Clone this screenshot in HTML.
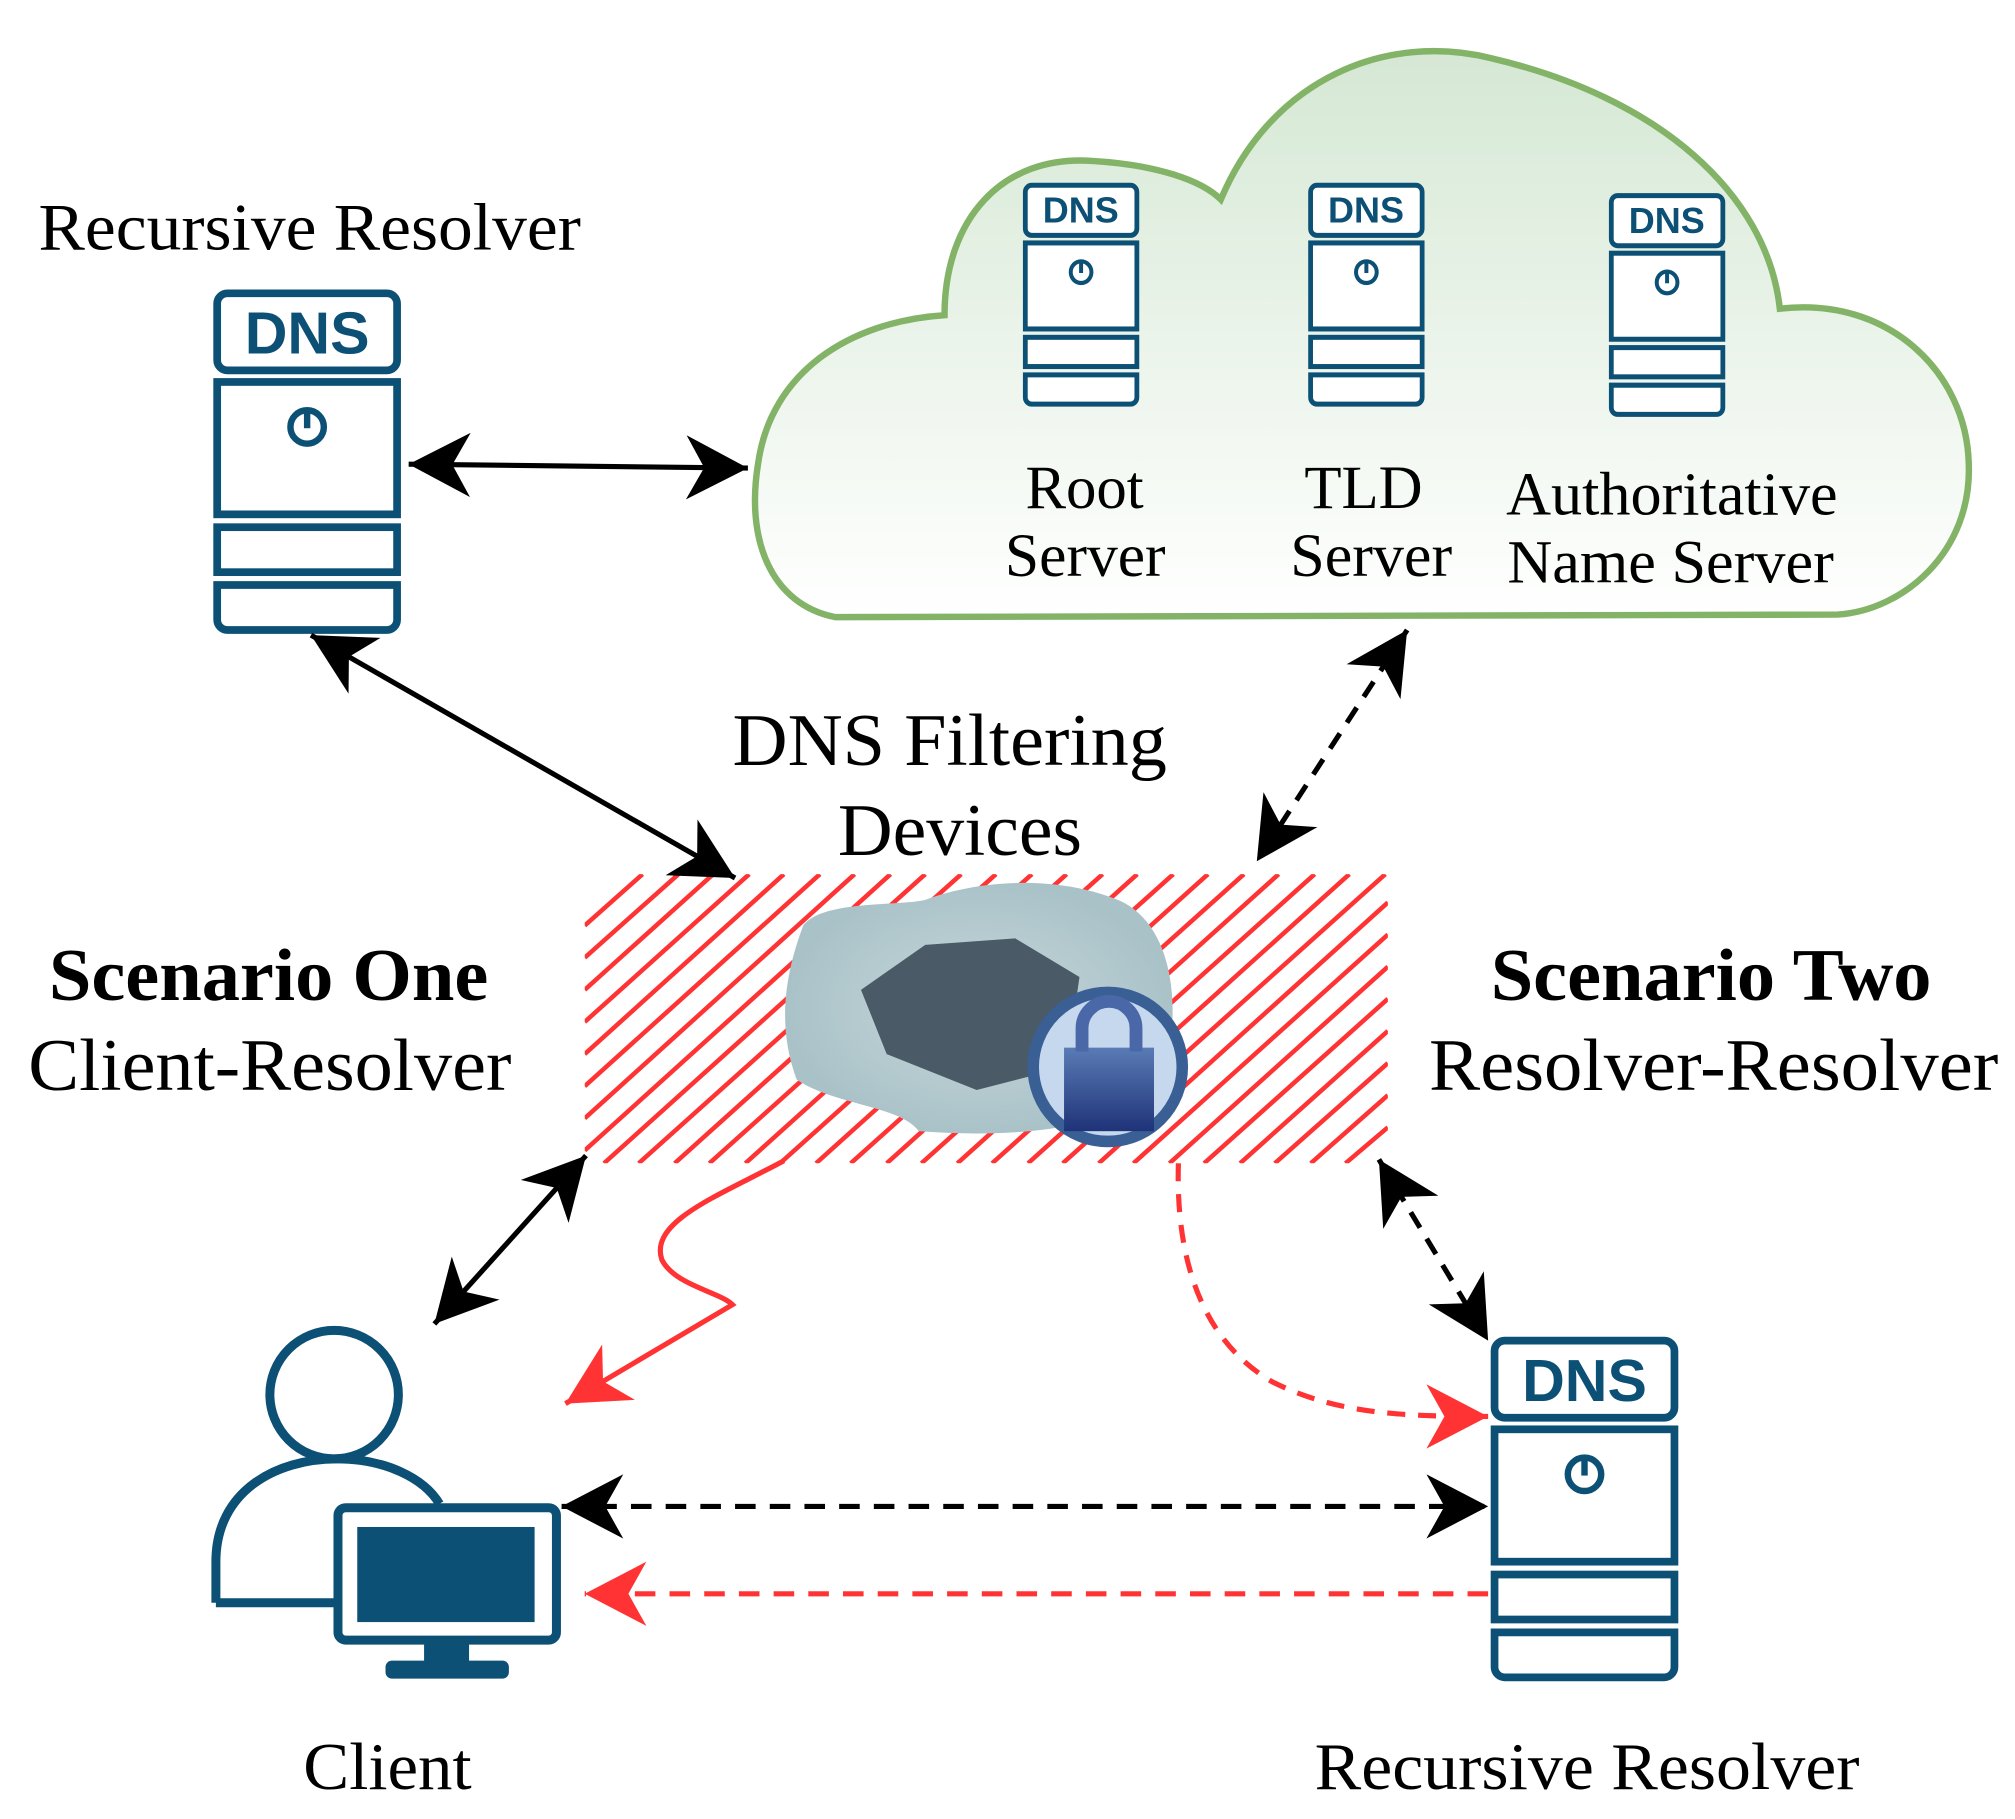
<!DOCTYPE html>
<html><head><meta charset="utf-8"><style>html,body{margin:0;padding:0;background:#fff}svg{display:block}</style></head>
<body>
<svg width="2015" height="1819" viewBox="0 0 1568 1415" xmlns="http://www.w3.org/2000/svg">
<defs>
<marker id="ab" markerUnits="userSpaceOnUse" viewBox="0 0 50 50" refX="48" refY="25" markerWidth="50" markerHeight="50" orient="auto-start-reverse"><path d="M48,25 L0,0 L14,25 L0,50 Z" fill="#000"/></marker>
<marker id="ar" markerUnits="userSpaceOnUse" viewBox="0 0 50 50" refX="48" refY="25" markerWidth="50" markerHeight="50" orient="auto-start-reverse"><path d="M48,25 L0,0 L14,25 L0,50 Z" fill="#f33"/></marker>
<linearGradient id="cg" x1="0" y1="0" x2="0" y2="1"><stop offset="0" stop-color="#d5e8d4"/><stop offset="1" stop-color="#fff"/></linearGradient>
<radialGradient id="gg" cx="0.5" cy="0.5" r="0.5"><stop offset="0" stop-color="#c8d8dc"/><stop offset="1" stop-color="#a9c2c8"/></radialGradient>
<linearGradient id="lk" x1="0" y1="0" x2="0" y2="1"><stop offset="0" stop-color="#5a7bb5"/><stop offset="1" stop-color="#1f3378"/></linearGradient>
<clipPath id="hc"><rect x="455" y="680" width="625" height="225"/></clipPath>
<g id="srv">
<rect x="3" y="3" width="140" height="60" rx="8" fill="#fff" stroke="#0d5075" stroke-width="6"/>
<rect x="3" y="72" width="140" height="103" fill="#fff" stroke="#0d5075" stroke-width="6"/>
<rect x="3" y="185" width="140" height="35" fill="#fff" stroke="#0d5075" stroke-width="6"/>
<path d="M3,230 H143 V257 a8,8 0 0 1 -8,8 H11 a8,8 0 0 1 -8,-8 Z" fill="#fff" stroke="#0d5075" stroke-width="6"/>
<circle cx="73" cy="107" r="13" fill="none" stroke="#0d5075" stroke-width="5"/>
<line x1="73" y1="94" x2="73" y2="108" stroke="#0d5075" stroke-width="5"/>
</g>
</defs>

<path d="M650,480 C600,470 580,420 590,360 C600,290 660,250 735,245 C735,170 780,120 850,125 C900,128 935,140 950,155 C990,60 1080,25 1160,45 C1290,75 1375,150 1385,240 C1470,230 1530,290 1532,360 C1535,430 1480,475 1430,478 Z" fill="url(#cg)" stroke="#82b366" stroke-width="5"/>

<g transform="translate(796,142) scale(0.62,0.65)"><use href="#srv"/></g>
<g transform="translate(1018,142) scale(0.62,0.65)"><use href="#srv"/></g>
<g transform="translate(1252,150) scale(0.62,0.65)"><use href="#srv"/></g>
<g font-family="Liberation Sans, sans-serif" font-weight="bold" fill="#0d5075" font-size="28" text-anchor="middle">
<text x="841" y="173">DNS</text><text x="1063" y="173">DNS</text><text x="1297" y="181">DNS</text></g>

<g transform="translate(166,225)"><use href="#srv"/></g>
<text x="239" y="275" font-family="Liberation Sans, sans-serif" font-weight="bold" fill="#0d5075" font-size="46" text-anchor="middle">DNS</text>
<g transform="translate(1160,1040)"><use href="#srv"/></g>
<text x="1233" y="1090" font-family="Liberation Sans, sans-serif" font-weight="bold" fill="#0d5075" font-size="46" text-anchor="middle">DNS</text>

<g font-family="Liberation Serif, serif" fill="#000" lengthAdjust="spacingAndGlyphs">
<text x="30" y="194" font-size="52" textLength="422" lengthAdjust="spacingAndGlyphs">Recursive Resolver</text>
<text x="798" y="395" font-size="48" textLength="92" lengthAdjust="spacingAndGlyphs">Root</text>
<text x="782" y="448" font-size="48" textLength="125" lengthAdjust="spacingAndGlyphs">Server</text>
<text x="1015" y="395" font-size="48" textLength="92" lengthAdjust="spacingAndGlyphs">TLD</text>
<text x="1004" y="448" font-size="48" textLength="126" lengthAdjust="spacingAndGlyphs">Server</text>
<text x="1172" y="400" font-size="48" textLength="258" lengthAdjust="spacingAndGlyphs">Authoritative</text>
<text x="1173" y="453" font-size="48" textLength="254" lengthAdjust="spacingAndGlyphs">Name Server</text>
<text x="236" y="1392" font-size="52" textLength="131" lengthAdjust="spacingAndGlyphs">Client</text>
<text x="1023" y="1392" font-size="52" textLength="424" lengthAdjust="spacingAndGlyphs">Recursive Resolver</text>
<text x="570" y="595" font-size="58" textLength="338" lengthAdjust="spacingAndGlyphs">DNS Filtering</text>
<text x="652" y="665" font-size="58" textLength="190" lengthAdjust="spacingAndGlyphs">Devices</text>
<text x="38" y="778" font-size="58" font-weight="bold" textLength="342" lengthAdjust="spacingAndGlyphs">Scenario One</text>
<text x="22" y="848" font-size="58" textLength="376" lengthAdjust="spacingAndGlyphs">Client-Resolver</text>
<text x="1160" y="778" font-size="58" font-weight="bold" textLength="343" lengthAdjust="spacingAndGlyphs">Scenario Two</text>
<text x="1112" y="848" font-size="58" textLength="443" lengthAdjust="spacingAndGlyphs">Resolver-Resolver</text>
</g>

<g clip-path="url(#hc)" stroke="#f33" stroke-width="3.5">
<path d="M455,720 L500,680 M455,770 L555,680 M455,820 L610,680 M455,870 L665,680 M470,905 L720,680 M525,905 L775,680 M580,905 L830,680 M635,905 L885,680 M690,905 L940,680 M745,905 L995,680 M800,905 L1050,680 M855,905 L1080,702 M910,905 L1080,752 M965,905 L1080,802 M1020,905 L1080,852 M455,745 L528,680 M455,795 L583,680 M455,845 L638,680 M455,895 L693,680 M497,905 L748,680 M552,905 L803,680 M607,905 L858,680 M662,905 L913,680 M717,905 L968,680 M772,905 L1023,680 M827,905 L1078,680 M882,905 L1080,727 M937,905 L1080,777 M992,905 L1080,827 M1047,905 L1080,877"/>
</g>
<path d="M625,720 C640,700 700,705 720,700 C760,685 820,680 870,700 C905,715 915,760 912,800 L880,860 C840,880 780,885 715,880 C700,860 650,860 620,840 C605,800 610,760 625,720 Z" fill="url(#gg)"/>
<path d="M670,770 L720,735 L790,730 L840,760 L830,830 L760,848 L690,820 Z" fill="#4a5a66"/>
<circle cx="862" cy="830" r="58" fill="#c6d8ee" stroke="#3a5f95" stroke-width="9"/>
<rect x="828" y="815" width="70" height="65" fill="url(#lk)"/>
<path d="M842,818 V800 a21,21 0 0 1 42,0 V818" fill="none" stroke="#4a68a8" stroke-width="10"/>

<g stroke="#0d5075" stroke-width="7" fill="none">
<circle cx="260" cy="1085" r="50"/>
<path d="M168,1247 V1215 C168,1160 215,1135 262,1135 C300,1135 330,1150 342,1170"/>
<line x1="168" y1="1247" x2="262" y2="1247"/>
<rect x="263" y="1173" width="170" height="103" rx="6" fill="#fff"/>
</g>
<rect x="278" y="1188" width="138" height="74" fill="#0d5075"/>
<rect x="330" y="1278" width="35" height="16" fill="#0d5075"/>
<rect x="300" y="1292" width="96" height="14" rx="5" fill="#0d5075"/>

<g fill="none" stroke-width="4">
<line x1="318" y1="361" x2="582" y2="364" stroke="#000" marker-start="url(#ab)" marker-end="url(#ab)"/>
<line x1="242" y1="494" x2="572" y2="683" stroke="#000" marker-start="url(#ab)" marker-end="url(#ab)"/>
<line x1="1095" y1="490" x2="978" y2="670" stroke="#000" stroke-dasharray="14,10" marker-start="url(#ab)" marker-end="url(#ab)"/>
<line x1="456" y1="899" x2="338" y2="1030" stroke="#000" marker-start="url(#ab)" marker-end="url(#ab)"/>
<line x1="1073" y1="902" x2="1158" y2="1043" stroke="#000" stroke-dasharray="14,10" marker-start="url(#ab)" marker-end="url(#ab)"/>
<line x1="437" y1="1172" x2="1158" y2="1172" stroke="#000" stroke-dasharray="16,11" marker-start="url(#ab)" marker-end="url(#ab)"/>
<path d="M610,903 C560,930 505,950 515,980 C525,1000 560,1005 570,1015 L440,1092" stroke="#f33" marker-end="url(#ar)"/>
<path d="M917,905 C915,970 930,1040 990,1075 C1040,1100 1090,1102 1158,1102" stroke="#f33" stroke-dasharray="14,10" marker-end="url(#ar)"/>
<line x1="1158" y1="1240" x2="455" y2="1240" stroke="#f33" stroke-dasharray="16,11" marker-end="url(#ar)"/>
</g>
</svg>
</body></html>
